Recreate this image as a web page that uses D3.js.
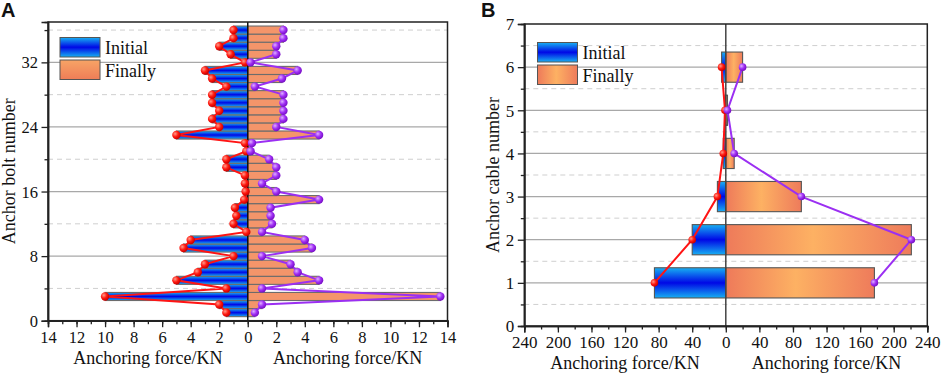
<!DOCTYPE html>
<html><head><meta charset="utf-8">
<script src="https://cdn.jsdelivr.net/npm/d3@7"></script>
<style>
html,body{margin:0;padding:0;background:#fff;}
</style></head>
<body>
<svg id="chart" width="941" height="373"></svg>
<script>
// ---------- DATA ----------
const bolts = d3.range(1, 37);
const boltInitial = [1.5,2,10,1.5,5,3.5,3,1,4.5,4,0.1,1,0.8,0.9,0.25,0.15,0.2,0.2,1.5,1.5,0.1,0.2,5,2,2.5,2,2.5,2.5,1.5,2.5,3,0.2,1.2,2,1,1];
const boltFinal   = [0.5,1,13.5,1,5,3.5,3,1,4.5,4,1,1.7,1.6,1.6,5,2,1,2,2,1.5,0.2,0.3,5,2,2.5,2.5,2.5,2.5,0.5,2.4,3.5,0.2,2,2,2.5,2.5];
const cables = [1,2,3,4,5,6];
const cableInitial = [85,40,10,3,1,5];
const cableFinal   = [177,221,90,10,2,20];
const ticksA_x = [-14,-12,-10,-8,-6,-4,-2,0,2,4,6,8,10,12,14];
const ticksA_y = [0,8,16,24,32];
const ticksB_x = [-240,-200,-160,-120,-80,-40,0,40,80,120,160,200,240];
const ticksB_y = [0,1,2,3,4,5,6,7];
const seriesNames = ["Initial","Finally"];
const xTitle = "Anchoring force/KN";

const SERIF = "Liberation Serif";
const svg = d3.select("#chart");
const defs = svg.append("defs");

function lin(id, x2, y2, stops){
  const g = defs.append("linearGradient").attr("id", id)
    .attr("x1",0).attr("y1",0).attr("x2",x2).attr("y2",y2);
  stops.forEach(s => g.append("stop").attr("offset", s[0]).attr("stop-color", s[1]));
}
lin("blueV", 0, 1, [[0,"#17b0f2"],[0.5,"#0008e6"],[1,"#17b0f2"]]);
lin("orangeH", 1, 0, [[0,"#ee7a5a"],[0.47,"#fdb163"],[1,"#ee7b5b"]]);
lin("orangeV", 0, 1, [[0,"#f7a466"],[1,"#ee7d57"]]);
function rad(id, c0, c1, c2){
  const g = defs.append("radialGradient").attr("id", id)
    .attr("cx","35%").attr("cy","35%").attr("r","65%");
  g.append("stop").attr("offset",0).attr("stop-color",c0);
  g.append("stop").attr("offset",0.55).attr("stop-color",c1);
  g.append("stop").attr("offset",1).attr("stop-color",c2);
}
rad("redBall", "#ff9a8a", "#ff1a10", "#cc0000");
rad("purpleBall", "#e0b0ff", "#a030f5", "#7a10c8");

const RED = "#ff1414", PURPLE = "#9b2ff2";

function panel(cfg){
  const g = svg.append("g").attr("font-family", SERIF);
  const x = d3.scaleLinear().domain(cfg.xDomain).range([cfg.left, cfg.right]);
  const y = d3.scaleLinear().domain(cfg.yDomain).range([cfg.bottom, cfg.top]);

  g.append("g").selectAll("line").data(cfg.gridMinor).join("line")
    .attr("x1", cfg.left).attr("x2", cfg.right)
    .attr("y1", d => y(d)).attr("y2", d => y(d))
    .attr("stroke", "#cfcfcf").attr("stroke-width", 1).attr("stroke-dasharray", "5,4");
  g.append("g").selectAll("line").data(cfg.gridMajor).join("line")
    .attr("x1", cfg.left).attr("x2", cfg.right)
    .attr("y1", d => y(d)).attr("y2", d => y(d))
    .attr("stroke", "#a8a8a8").attr("stroke-width", 1.2);

  const bh = Math.abs(y(cfg.barH) - y(0));
  g.append("g").selectAll("rect").data(cfg.cats).join("rect")
    .attr("x", (d,i) => x(-cfg.init[i])).attr("width", (d,i) => x(0) - x(-cfg.init[i]))
    .attr("y", d => y(d) - bh/2).attr("height", bh)
    .attr("fill", "url(#blueV)").attr("stroke", cfg.barStroke).attr("stroke-width", cfg.barSW);
  g.append("g").selectAll("rect").data(cfg.cats).join("rect")
    .attr("x", x(0)).attr("width", (d,i) => x(cfg.fin[i]) - x(0))
    .attr("y", d => y(d) - bh/2).attr("height", bh)
    .attr("fill", cfg.orangeFill).attr("stroke", cfg.barStroke).attr("stroke-width", cfg.barSW);

  g.append("line").attr("x1", x(0)).attr("x2", x(0)).attr("y1", cfg.top).attr("y2", cfg.bottom)
    .attr("stroke", cfg.zeroColor).attr("stroke-width", 1.5);

  const line = d3.line().x(d => x(d[0])).y(d => y(d[1]));
  const initPts = cfg.cats.map((c,i) => [-cfg.init[i], c]);
  const finPts = cfg.cats.map((c,i) => [cfg.fin[i], c]);
  g.append("path").attr("d", line(initPts)).attr("fill","none").attr("stroke", RED).attr("stroke-width", 2);
  g.append("path").attr("d", line(finPts)).attr("fill","none").attr("stroke", PURPLE).attr("stroke-width", 2);
  g.append("g").selectAll("circle").data(initPts).join("circle")
    .attr("cx", d => x(d[0])).attr("cy", d => y(d[1])).attr("r", cfg.mr)
    .attr("fill", "url(#redBall)");
  g.append("g").selectAll("circle").data(finPts).join("circle")
    .attr("cx", d => x(d[0])).attr("cy", d => y(d[1])).attr("r", cfg.mr)
    .attr("fill", "url(#purpleBall)");

  g.append("rect").attr("x", cfg.left).attr("y", cfg.top)
    .attr("width", cfg.right - cfg.left).attr("height", cfg.bottom - cfg.top)
    .attr("fill", "none").attr("stroke", "#222").attr("stroke-width", 1.5);

  const xMinor = g.append("g").attr("transform", `translate(0,${cfg.bottom})`)
    .call(d3.axisBottom(x).tickValues(cfg.xMinor).tickSize(3.5).tickFormat(""));
  const xAx = g.append("g").attr("transform", `translate(0,${cfg.bottom})`)
    .call(d3.axisBottom(x).tickValues(cfg.xTicks).tickSize(6.5).tickFormat(d => Math.abs(d)));
  const yMinor = g.append("g").attr("transform", `translate(${cfg.left},0)`)
    .call(d3.axisLeft(y).tickValues(cfg.yMinor).tickSize(3.5).tickFormat(""));
  const yAx = g.append("g").attr("transform", `translate(${cfg.left},0)`)
    .call(d3.axisLeft(y).tickValues(cfg.yTicks).tickSize(6.5).tickFormat(d => d));
  [xMinor, xAx, yMinor, yAx].forEach(a => {
    a.attr("font-family", SERIF);
    a.select(".domain").attr("stroke", "#222").attr("stroke-width", 1.5);
    a.selectAll(".tick line").attr("stroke", "#222").attr("stroke-width", 1.3);
  });
  xAx.selectAll("text").attr("font-family", SERIF).attr("font-size", cfg.tickFont)
    .attr("fill", "#111").attr("y", cfg.xTickBase).attr("dy", 0);
  yAx.selectAll("text").attr("font-family", SERIF).attr("font-size", cfg.tickFont)
    .attr("fill", "#111").attr("x", -cfg.yTickGap).attr("dy", "0.34em");

  g.append("text").attr("x", (x(cfg.xDomain[0]) + x(0))/2).attr("y", cfg.xTitleBase)
    .attr("font-family", SERIF)
    .attr("text-anchor","middle").attr("font-size", 18).attr("fill","#111").text(xTitle);
  g.append("text").attr("x", (x(cfg.xDomain[1]) + x(0))/2).attr("y", cfg.xTitleBase)
    .attr("font-family", SERIF)
    .attr("text-anchor","middle").attr("font-size", 18).attr("fill","#111").text(xTitle);
  g.append("text").attr("transform", `translate(${cfg.yTitleX},${(cfg.top+cfg.bottom)/2}) rotate(-90)`)
    .attr("font-family", SERIF)
    .attr("text-anchor","middle").attr("font-size", 18).attr("fill","#111").text(cfg.yTitle);

  const lg = g.append("g");
  lg.append("rect").attr("x", cfg.leg[0]).attr("y", cfg.leg[1]).attr("width", 40).attr("height", 19.5)
    .attr("fill", "url(#blueV)").attr("stroke", "#555").attr("stroke-width", 1);
  lg.append("rect").attr("x", cfg.leg[0]).attr("y", cfg.leg[1] + 22.5).attr("width", 40).attr("height", 19.5)
    .attr("fill", cfg.legOrange).attr("stroke", "#555").attr("stroke-width", 1);
  lg.append("text").attr("x", cfg.leg[0] + 45).attr("y", cfg.leg[1] + 16.5)
    .attr("font-family", SERIF)
    .attr("font-size", 18).attr("fill","#111").text(seriesNames[0]);
  lg.append("text").attr("x", cfg.leg[0] + 45).attr("y", cfg.leg[1] + 39)
    .attr("font-family", SERIF)
    .attr("font-size", 18).attr("fill","#111").text(seriesNames[1]);

  g.append("text").attr("x", cfg.letterX).attr("y", 17)
    .attr("font-family","Liberation Sans").attr("font-weight","bold")
    .attr("font-size", 20).attr("fill","#111").text(cfg.letter);
}

panel({
  letter: "A", letterX: 1,
  left: 48, right: 447.5, top: 22, bottom: 320.7,
  xDomain: [-14, 14], yDomain: [0, 37],
  cats: bolts, init: boltInitial, fin: boltFinal,
  barH: 1, barStroke: "#6c6c6c", barSW: 1.1, orangeFill: "#f4956a",
  gridMajor: [8,16,24,32], gridMinor: [4,12,20,28,36],
  xTicks: ticksA_x, xMinor: d3.range(-14, 15, 1),
  yTicks: ticksA_y, yMinor: [4,12,20,28,36],
  zeroColor: "#111", mr: 4.2,
  tickFont: 16.5, xTickBase: 22.3, yTickGap: 10, xTitleBase: 363.5,
  yTitle: "Anchor bolt number", yTitleX: 15,
  leg: [60, 37.5], legOrange: "url(#orangeV)"
});

panel({
  letter: "B", letterX: 481,
  left: 524.3, right: 927.3, top: 24, bottom: 326,
  xDomain: [-240, 240], yDomain: [0, 7],
  cats: cables, init: cableInitial, fin: cableFinal,
  barH: 0.7, barStroke: "#555", barSW: 1.1, orangeFill: "url(#orangeH)",
  gridMajor: [1,2,3,4,5,6], gridMinor: [0.5,1.5,2.5,3.5,4.5,5.5,6.5],
  xTicks: ticksB_x, xMinor: d3.range(-240, 241, 20),
  yTicks: ticksB_y, yMinor: [0.5,1.5,2.5,3.5,4.5,5.5,6.5],
  zeroColor: "#444", mr: 3.8,
  tickFont: 17, xTickBase: 21.5, yTickGap: 10, xTitleBase: 368.5,
  yTitle: "Anchor cable number", yTitleX: 499,
  leg: [537.5, 42.5], legOrange: "url(#orangeH)"
});
</script>
</body></html>
